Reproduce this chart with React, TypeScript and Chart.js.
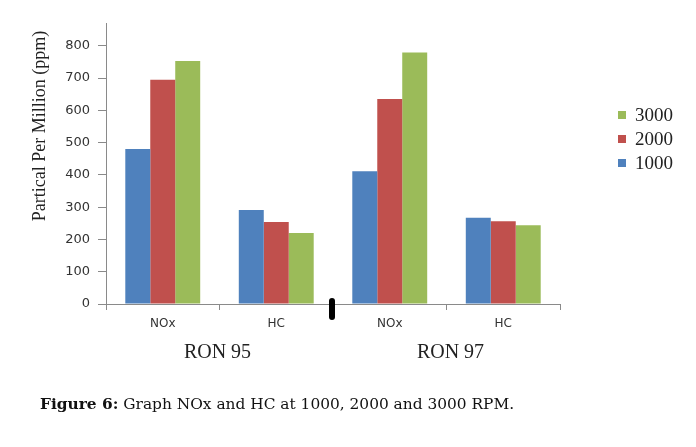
import React, { useEffect, useRef } from "react";
import { Chart, registerables } from "chart.js";

Chart.register(...registerables);

const categories = ["NOx", "HC", "NOx", "HC"];
const groupLabels = ["RON 95", "RON 97"];
const seriesNames = ["1000", "2000", "3000"];
const rpm1000 = [480, 291, 411, 267];
const rpm2000 = [695, 254, 635, 256];
const rpm3000 = [753, 220, 779, 244];
const yTitle = "Partical Per Million (ppm)";
const caption = "Graph NOx and HC at 1000, 2000 and 3000 RPM.";

const colors = ["#4F81BD", "#C0504D", "#9BBB59"];

const extras = {
  id: "extras",
  afterDraw(chart: any) {
    const ctx = chart.ctx;
    const x = chart.scales.x;
    const ca = chart.chartArea;
    ctx.save();
    // y title
    ctx.fillStyle = "#222";
    ctx.font = "18px 'Liberation Serif'";
    ctx.textAlign = "center";
    ctx.textBaseline = "middle";
    ctx.translate(32, 118);
    ctx.rotate(-Math.PI / 2);
    ctx.fillText(yTitle, 0, 0);
    ctx.restore();

    ctx.save();
    // group labels
    ctx.fillStyle = "#222";
    ctx.font = "20px 'Liberation Serif'";
    ctx.textAlign = "center";
    ctx.textBaseline = "middle";
    const b1 = (x.getPixelForValue(0) + x.getPixelForValue(1)) / 2;
    const b2 = (x.getPixelForValue(2) + x.getPixelForValue(3)) / 2;
    ctx.fillText(groupLabels[0], b1 - 2, 345);
    ctx.fillText(groupLabels[1], b2 + 4, 345);

    // separator mark
    const sep = (x.getPixelForValue(1) + x.getPixelForValue(2)) / 2;
    ctx.strokeStyle = "#000";
    ctx.lineWidth = 6;
    ctx.lineCap = "round";
    ctx.beginPath();
    ctx.moveTo(sep - 1, ca.bottom - 3);
    ctx.lineTo(sep - 1, ca.bottom + 13);
    ctx.stroke();

    // legend (reversed)
    ctx.font = "19px 'Liberation Serif'";
    ctx.textAlign = "left";
    const order = [2, 1, 0];
    order.forEach((di, i) => {
      const cy = 107 + i * 24;
      ctx.fillStyle = colors[di];
      ctx.fillRect(610, cy - 4, 8, 8);
      ctx.fillStyle = "#222";
      ctx.fillText(seriesNames[di], 627, cy + 1);
    });
    ctx.restore();
  },
};

export default function App() {
  const ref = useRef<HTMLCanvasElement>(null);
  useEffect(() => {
    if (!ref.current) return;
    const chart = new Chart(ref.current, {
      type: "bar",
      data: {
        labels: categories,
        datasets: [rpm1000, rpm2000, rpm3000].map((d, i) => ({
          label: seriesNames[i],
          data: d,
          backgroundColor: colors[i],
          borderWidth: 0,
          barPercentage: 1,
          categoryPercentage: 0.66,
        })),
      },
      options: {
        responsive: false,
        animation: false,
        devicePixelRatio: 1,
        layout: { padding: { left: 0, right: 128, top: 14, bottom: 105 } },
        plugins: { legend: { display: false }, tooltip: { enabled: false } },
        scales: {
          x: {
            afterFit: (s: any) => {
              s.height = 30;
            },
            grid: {
              drawOnChartArea: false,
              tickLength: 6,
              color: "#8a8a8a",
              offset: true,
            },
            border: { color: "#8a8a8a" },
            ticks: {
              color: "#333",
              font: { family: "'DejaVu Sans'", size: 12 },
              padding: 7,
              maxRotation: 0,
            },
          },
          y: {
            min: 0,
            max: 868,
            afterFit: (s: any) => {
              s.width = 98;
            },
            grid: {
              drawOnChartArea: false,
              tickLength: 8,
              color: "#8a8a8a",
            },
            border: { color: "#8a8a8a" },
            ticks: {
              stepSize: 100,
              includeBounds: false,
              color: "#333",
              font: { family: "'DejaVu Sans'", size: 13 },
              padding: 8,
            },
          },
        },
      },
      plugins: [extras],
    });
    return () => chart.destroy();
  }, []);

  return (
    <div style={{ position: "relative", width: 680, height: 431 }}>
      <canvas ref={ref} width={680} height={431} />
      <div
        style={{
          position: "absolute",
          left: 32,
          top: 387,
          fontFamily: "'DejaVu Serif'",
          fontSize: 15.4,
          color: "#111",
          whiteSpace: "nowrap",
        }}
      >
        <b>Figure 6:</b> {caption}
      </div>
    </div>
  );
}
